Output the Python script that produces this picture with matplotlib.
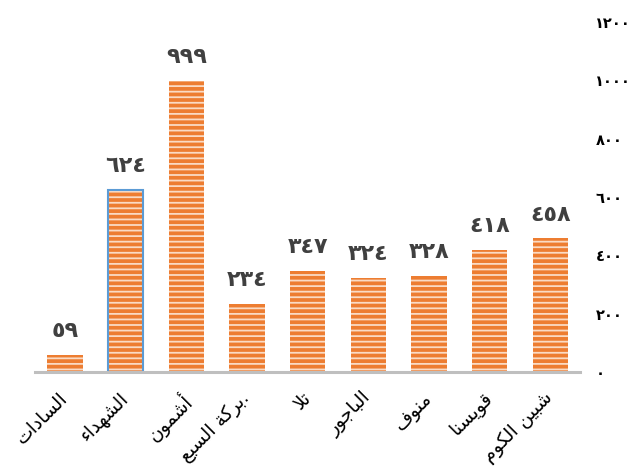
# Bar chart - Arabic labels, right y axis
import numpy as np
import matplotlib
matplotlib.use('Agg')
import matplotlib.pyplot as plt
from matplotlib.transforms import ScaledTranslation

# Data
categories = ['السادات', 'الشهداء', 'أشمون', 'بركة السبع.', 'تلا',
              'الباجور', 'منوف', 'قويسنا', 'شبين الكوم']
values = [59, 624, 999, 234, 347, 324, 328, 418, 458]
y_ticks = [0, 200, 400, 600, 800, 1000, 1200]
highlight = 'الشهداء'

# Arabic shaping (matplotlib has no text shaping of its own)
DUAL = {'ب': 0xFE8F, 'ت': 0xFE95, 'ث': 0xFE99, 'ج': 0xFE9D, 'ح': 0xFEA1,
        'خ': 0xFEA5, 'س': 0xFEB1, 'ش': 0xFEB5, 'ص': 0xFEB9, 'ض': 0xFEBD,
        'ط': 0xFEC1, 'ظ': 0xFEC5, 'ع': 0xFEC9, 'غ': 0xFECD, 'ف': 0xFED1,
        'ق': 0xFED5, 'ك': 0xFED9, 'ل': 0xFEDD, 'م': 0xFEE1, 'ن': 0xFEE5,
        'ه': 0xFEE9, 'ي': 0xFEF1, 'ئ': 0xFE89}
RIGHT = {'آ': 0xFE81, 'أ': 0xFE83, 'ؤ': 0xFE85, 'إ': 0xFE87, 'ا': 0xFE8D,
         'ة': 0xFE93, 'د': 0xFEA9, 'ذ': 0xFEAB, 'ر': 0xFEAD, 'ز': 0xFEAF,
         'و': 0xFEED, 'ى': 0xFEEF}
NONE = {'ء': 0xFE80}
LAM_ALEF = {'آ': 0xFEF5, 'أ': 0xFEF7, 'إ': 0xFEF9, 'ا': 0xFEFB}
DIGITS = str.maketrans('0123456789', '٠١٢٣٤٥٦٧٨٩')


def shape(text):
    out = []
    i = 0
    n = len(text)
    while i < n:
        c = text[i]
        prev = text[i - 1] if i > 0 else ''
        joins_prev = prev in DUAL and (c in DUAL or c in RIGHT)
        if c == 'ل' and i + 1 < n and text[i + 1] in LAM_ALEF:
            base = LAM_ALEF[text[i + 1]]
            out.append(chr(base + (1 if joins_prev else 0)))
            i += 2
            continue
        nxt = text[i + 1] if i + 1 < n else ''
        if c in DUAL:
            joins_next = nxt in DUAL or nxt in RIGHT
            form = {(False, False): 0, (True, False): 1,
                    (False, True): 2, (True, True): 3}[(joins_prev, joins_next)]
            out.append(chr(DUAL[c] + form))
        elif c in RIGHT:
            out.append(chr(RIGHT[c] + (1 if joins_prev else 0)))
        elif c in NONE:
            out.append(chr(NONE[c]))
        else:
            out.append(c)
        i += 1
    return out


def rtl(text):
    # RTL run reversed, trailing punctuation kept after it (LTR paragraph)
    core = text.rstrip('.')
    tail = text[len(core):]
    return ''.join(reversed(shape(core))) + tail


plt.rcParams['font.family'] = ['DejaVu Sans']
plt.rcParams['hatch.linewidth'] = 1.3

fig = plt.figure(figsize=(6.41, 4.72), dpi=100)
ax = fig.add_axes([0.055, 0.212, 0.85, 0.741])

x = np.arange(len(categories))
ax.bar(x, values, width=0.58, color='#ED7D31', edgecolor='#FADBC4',
       linewidth=0, hatch='---', zorder=2)
hi = categories.index(highlight)
ax.bar(x[hi], values[hi], width=0.58, fill=False, edgecolor='#5B9BD5',
       linewidth=1.5, zorder=3)

for xi, v in zip(x, values):
    ax.annotate(str(v).translate(DIGITS), (xi, v), xytext=(0, 10),
                textcoords='offset points', ha='center', va='bottom',
                fontsize=16, fontweight='bold', color='#404040')

ax.set_xlim(-0.49, len(categories) - 0.51)
ax.set_ylim(0, 1200)
ax.set_yticks(y_ticks)
ax.set_yticklabels([str(t).translate(DIGITS) for t in y_ticks],
                   fontsize=10.5, fontweight='bold', color='black')
ax.yaxis.tick_right()
ax.tick_params(axis='y', length=0, pad=11)
for lbl in ax.get_yticklabels():
    lbl.set_horizontalalignment('left')

ax.set_xticks(x)
ax.set_xticklabels([rtl(c) for c in categories], rotation=45,
                   ha='right', va='top', rotation_mode='anchor',
                   fontsize=13.5, color='black')
ax.tick_params(axis='x', length=0, pad=12)
shift = ScaledTranslation(-5 / 72, 0, fig.dpi_scale_trans)
for lbl in ax.get_xticklabels():
    lbl.set_transform(lbl.get_transform() + shift)

for side in ['top', 'left', 'right']:
    ax.spines[side].set_visible(False)
ax.spines['bottom'].set_color('#BFBFBF')
ax.spines['bottom'].set_linewidth(2.2)
ax.spines['bottom'].set_zorder(4)

fig.savefig('out.png', dpi=100)
